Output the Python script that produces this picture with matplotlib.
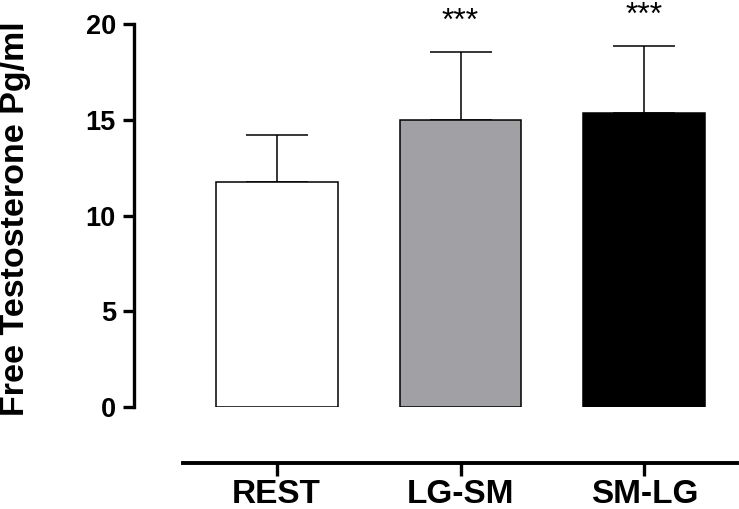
import matplotlib
matplotlib.use("Agg")
import matplotlib.pyplot as plt
from matplotlib import font_manager
import numpy as np

# data
groups = ["REST", "LG-SM", "SM-LG"]
means = [11.78, 15.02, 15.39]
sems = [2.44, 3.53, 3.48]
stars = ["", "***", "***"]
colors = ["white", "#a1a1a5", "black"]

# reference uses a condensed bold face; fall back to plain Arial-metric font, a bit smaller
names = {f.name for f in font_manager.fontManager.ttflist}
if "Liberation Sans Narrow" in names:
    tick_font, xsize, ysize = "Liberation Sans Narrow", 27, 22
else:
    tick_font, xsize, ysize = "Liberation Sans", 24, 19.5

fig = plt.figure(figsize=(7.39, 5.09), dpi=100)
ax = fig.add_axes([0.1813, 0.2004, 0.816, 0.7515])

x = np.arange(len(groups))
ax.bar(x, means, width=0.663, color=colors, edgecolor="black", linewidth=1.1, zorder=2)
ax.errorbar(x, means, yerr=[np.zeros(len(sems)), sems], fmt="none",
            ecolor="black", elinewidth=1.1, capsize=22, capthick=1.1, zorder=1)

for xi, m, s, st in zip(x, means, sems, stars):
    if st:
        ax.text(xi, m + s + 0.8, st, ha="center", va="bottom", fontsize=23,
                family="Liberation Sans", clip_on=False)

ax.set_xlim(-0.775, 2.503)
ax.set_ylim(0, 20)
ax.set_yticks([0, 5, 10, 15, 20])
ax.set_xticks(x)
ax.set_xticklabels(groups)

for sp in ["top", "right"]:
    ax.spines[sp].set_visible(False)
ax.spines["left"].set_linewidth(2.4)
ax.spines["bottom"].set_linewidth(2.8)
ax.spines["bottom"].set_position(("outward", 40))
ax.spines["bottom"].set_bounds(-0.508, 2.503)

ax.tick_params(axis="y", length=8, width=2.4, pad=5, labelsize=ysize)
ax.tick_params(axis="x", length=9, width=2.4, pad=3, labelsize=xsize)
for lab in ax.get_yticklabels() + ax.get_xticklabels():
    lab.set_family(tick_font)
    lab.set_fontweight("bold")

fig.text(16 / 739, 1 - 219 / 509, "Free Testosterone Pg/ml", rotation=90,
         ha="center", va="center", fontsize=24.5, fontweight="bold",
         family="Liberation Sans")

fig.savefig("out.png", dpi=100)
